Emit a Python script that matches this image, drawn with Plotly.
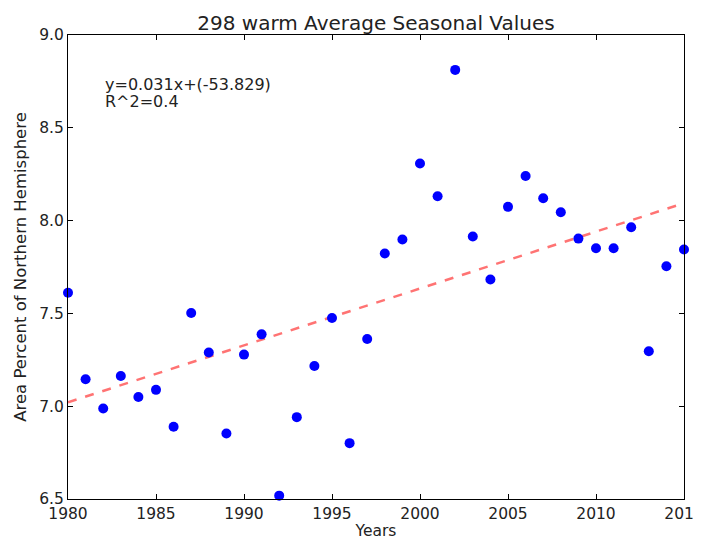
import numpy as np
import plotly.graph_objects as go

years = list(range(1980, 2016))
values = [7.611, 7.145, 6.988, 7.163, 7.050, 7.088, 6.889, 7.502, 7.289, 6.853,
          7.278, 7.387, 6.518, 6.941, 7.217, 7.475, 6.801, 7.362, 7.823, 7.898,
          8.308, 8.131, 8.812, 7.914, 7.683, 8.074, 8.240, 8.120, 8.045, 7.903,
          7.851, 7.851, 7.964, 7.296, 7.754, 7.844]
x_ticks = [1980, 1985, 1990, 1995, 2000, 2005, 2010, 2015]
y_ticks = [6.5, 7.0, 7.5, 8.0, 8.5, 9.0]
title = "298 warm Average Seasonal Values"
eq_line1 = "y=0.031x+(-53.829)"
eq_line2 = "R^2=0.4"

slope, intercept = np.polyfit(years, values, 1)
fit_x = [1980, 2015]
fit_y = [slope * xx + intercept for xx in fit_x]

font = "DejaVu Sans, sans-serif"
txt = "#222"
fig = go.Figure()
fig.add_trace(go.Scatter(x=fit_x, y=fit_y, mode="lines",
                         line=dict(color="rgba(255,0,0,0.55)", width=2.5, dash="dash"),
                         showlegend=False, hoverinfo="skip"))
fig.add_trace(go.Scatter(x=years, y=values, mode="markers",
                         marker=dict(color="#0000ff", size=10, line=dict(width=0)),
                         showlegend=False, cliponaxis=False))

axis_common = dict(showgrid=False, zeroline=False, showline=True, linecolor="#000",
                   linewidth=1, mirror="allticks", ticks="inside", ticklen=5,
                   tickcolor="#000", automargin=False, ticklabeloverflow="allow",
                   tickfont=dict(family=font, size=15.5, color=txt))
fig.update_xaxes(range=[1980, 2015], tickvals=x_ticks, ticktext=[str(t) for t in x_ticks],
                 title=dict(text="Years", font=dict(family=font, size=15.5, color=txt), standoff=6),
                 ticklabelstandoff=0, **axis_common)
fig.update_yaxes(range=[6.5, 9.0], tickvals=y_ticks, ticktext=[f"{t:.1f}" for t in y_ticks],
                 title=dict(text="Area Percent of Northern Hemisphere",
                            font=dict(family=font, size=16.5, color=txt), standoff=8),
                 ticklabelstandoff=0, **axis_common)
fig.add_annotation(x=1982, y=8.732, xref="x", yref="y", text=eq_line1, showarrow=False,
                   xanchor="left", yanchor="middle", align="left",
                   font=dict(family=font, size=16, color=txt))
fig.add_annotation(x=1982, y=8.644, xref="x", yref="y", text=eq_line2, showarrow=False,
                   xanchor="left", yanchor="middle", align="left",
                   font=dict(family=font, size=16, color=txt))
fig.update_layout(
    width=694, height=532,
    margin=dict(l=60, r=18, t=27, b=41),
    paper_bgcolor="white", plot_bgcolor="white",
    title=dict(text=title, x=0.5, xanchor="center", xref="paper", y=1 - 15 / 532,
               yanchor="middle", font=dict(family=font, size=20, color=txt)),
)
fig.write_html("out.html")
